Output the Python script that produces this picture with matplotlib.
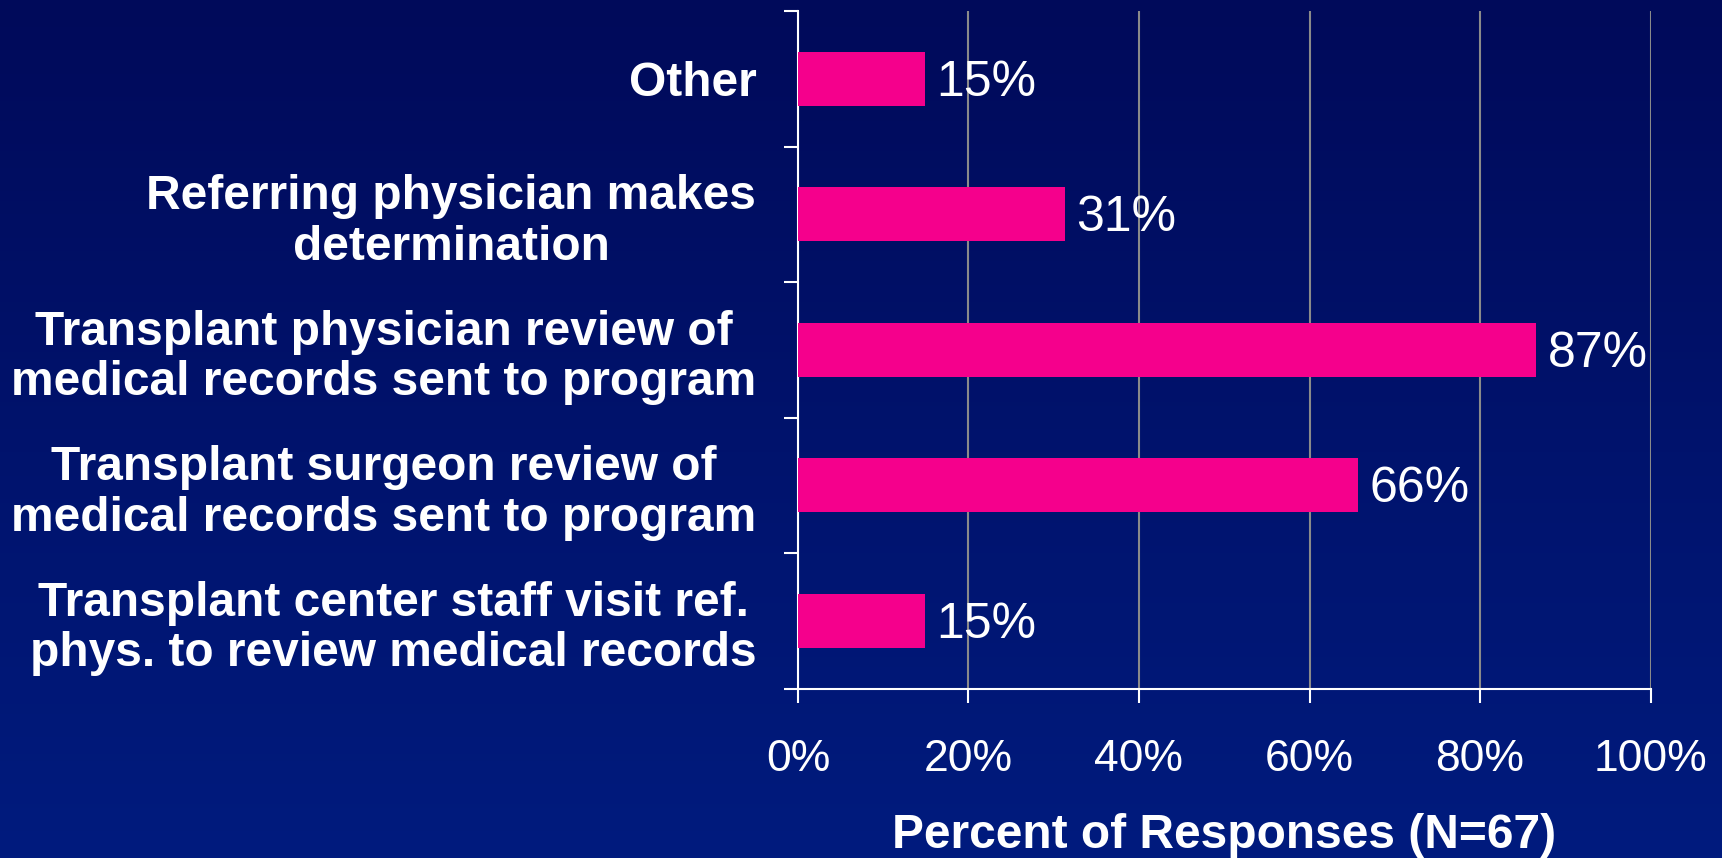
import matplotlib
matplotlib.use("Agg")
import matplotlib.pyplot as plt
import numpy as np
from matplotlib.colors import LinearSegmentedColormap

categories = [
    "Other",
    "Referring physician makes\ndetermination",
    "Transplant physician review of\nmedical records sent to program",
    "Transplant surgeon review of\nmedical records sent to program",
    "Transplant center staff visit ref.\nphys. to review medical records",
]
values = [14.9, 31.3, 86.6, 65.7, 14.9]
value_labels = ["15%", "31%", "87%", "66%", "15%"]
xticks = [0, 20, 40, 60, 80, 100]
xtick_labels = ["0%", "20%", "40%", "60%", "80%", "100%"]
xlabel = "Percent of Responses (N=67)"

plt.rcParams['font.family'] = ['Liberation Sans', 'DejaVu Sans']

fig = plt.figure(figsize=(17.22, 8.58), dpi=100)

# gradient background
bg = fig.add_axes([0, 0, 1, 1], zorder=-10)
cmap = LinearSegmentedColormap.from_list("bg", ["#000A5A", "#001B7E"])
grad = np.linspace(0, 1, 256).reshape(-1, 1)
bg.imshow(grad, aspect='auto', cmap=cmap, extent=[0, 1, 1, 0])
bg.set_axis_off()

ax = fig.add_axes([0.4634, 0.1974, 0.9585 - 0.4634, 0.9872 - 0.1974])
ax.patch.set_alpha(0)

n = len(categories)
ypos = np.arange(n)
ax.barh(ypos, values, height=0.4, color="#F5008C", zorder=3)
ax.set_ylim(n - 0.5, -0.5)
ax.set_xlim(0, 100)

for y, v, lab in zip(ypos, values, value_labels):
    ax.text(v + 1.3, y + 0.03, lab, va='center', ha='left', color='white', fontsize=36, zorder=4)

# x axis
ax.set_xticks(xticks)
ax.set_xticklabels(xtick_labels, fontsize=32, color='white')
ax.tick_params(axis='x', direction='out', length=10, width=1.5, color='white', pad=26)
ax.grid(axis='x', color='#8A8A8A', linewidth=1.5, zorder=0)
ax.set_xlabel(xlabel, fontsize=34.5, fontweight='bold', color='white', labelpad=24)

# y axis: boundary ticks, centered labels
ax.set_yticks(np.arange(-0.5, n, 1.0))
ax.set_yticklabels([])
ax.tick_params(axis='y', which='major', direction='out', length=10, width=1.5, color='white')
ax.set_yticks(ypos, minor=True)
ax.set_yticklabels(categories, minor=True, fontsize=34.5, fontweight='bold', color='white',
                   multialignment='center', linespacing=1.15)
ax.tick_params(axis='y', which='minor', length=0, pad=30)

for s in ['top', 'right']:
    ax.spines[s].set_visible(False)
for s in ['left', 'bottom']:
    ax.spines[s].set_color('white')
    ax.spines[s].set_linewidth(1.5)

fig.savefig("out.png", dpi=100)
